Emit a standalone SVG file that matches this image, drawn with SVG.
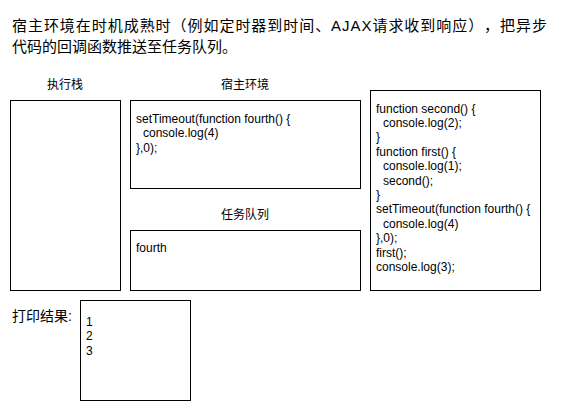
<svg xmlns="http://www.w3.org/2000/svg" width="561" height="411" viewBox="0 0 561 411">
<style>
.box{fill:#fff;stroke:#000;stroke-width:1}
text{font-family:"Liberation Sans","Noto Sans CJK SC",sans-serif;fill:#000;text-spacing-trim:space-all}
.t{font-size:15px}
.l{font-size:12px}
.c{font-size:12px}
.m{text-anchor:middle}
</style>
<rect width="561" height="411" fill="#fff"/>
<g id="title">
<text class="t" x="12" y="31" textLength="535" lengthAdjust="spacing">宿主环境在时机成熟时（例如定时器到时间、AJAX请求收到响应），把异步</text>
<text class="t" x="12" y="52">代码的回调函数推送至任务队列。</text>
</g>
<g id="exec-stack">
<text class="l m" x="65" y="89">执行栈</text>
<rect class="box" x="10.5" y="100.5" width="110" height="190"/>
</g>
<g id="host-env">
<text class="l m" x="245" y="89">宿主环境</text>
<rect class="box" x="130.5" y="100.5" width="230" height="88"/>
<text class="c" x="136" y="123">setTimeout(function fourth() {</text>
<text class="c" x="143" y="137.4">console.log(4)</text>
<text class="c" x="136" y="151.8">},0);</text>
</g>
<g id="task-queue">
<text class="l m" x="245" y="219">任务队列</text>
<rect class="box" x="130.5" y="230.5" width="230" height="60"/>
<text class="c" x="136" y="252">fourth</text>
</g>
<g id="code">
<rect class="box" x="370.5" y="90.5" width="170" height="200"/>
<text class="c" x="376" y="112.5">function second() {</text>
<text class="c" x="383" y="126.9">console.log(2);</text>
<text class="c" x="376" y="141.3">}</text>
<text class="c" x="376" y="155.7">function first() {</text>
<text class="c" x="383" y="170.1">console.log(1);</text>
<text class="c" x="383" y="184.5">second();</text>
<text class="c" x="376" y="198.9">}</text>
<text class="c" x="376" y="213.3">setTimeout(function fourth() {</text>
<text class="c" x="383" y="227.7">console.log(4)</text>
<text class="c" x="376" y="242.1">},0);</text>
<text class="c" x="376" y="256.5">first();</text>
<text class="c" x="376" y="270.9">console.log(3);</text>
</g>
<g id="output">
<text x="12" y="321" style="font-size:14px">打印结果:</text>
<rect class="box" x="80.5" y="300.5" width="110" height="100"/>
<text class="c" x="86" y="326">1</text>
<text class="c" x="86" y="340.4">2</text>
<text class="c" x="86" y="354.8">3</text>
</g>
<g id="connectors"></g>
</svg>
